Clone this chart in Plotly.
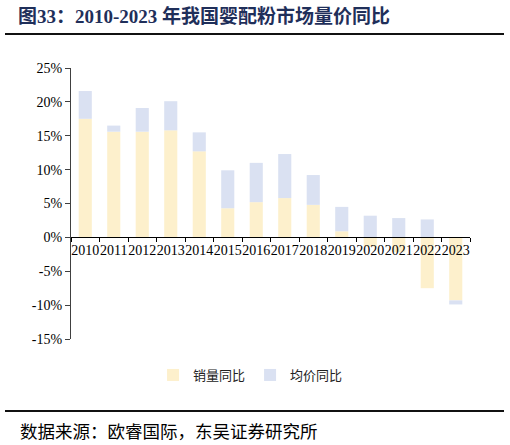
import plotly.graph_objects as go

years = ["2010", "2011", "2012", "2013", "2014", "2015", "2016",
         "2017", "2018", "2019", "2020", "2021", "2022", "2023"]
volume_yoy = [17.5, 15.6, 15.6, 15.8, 12.7, 4.3, 5.2, 5.8, 4.8, 0.9, -1.4, -2.2, -7.5, -9.3]
price_yoy = [4.1, 0.9, 3.5, 4.3, 2.8, 5.6, 5.8, 6.5, 4.4, 3.6, 3.2, 2.85, 2.65, -0.6]

y_tickvals = [-15, -10, -5, 0, 5, 10, 15, 20, 25]
y_ticktext = ["-15%", "-10%", "-5%", "0%", "5%", "10%", "15%", "20%", "25%"]

title_text = "图33：2010-2023 年我国婴配粉市场量价同比"
source_text = "数据来源：欧睿国际，东吴证券研究所"

serif = "Liberation Serif, 'Times New Roman', 'Noto Sans CJK SC', serif"
cjk = "'Noto Sans CJK SC', sans-serif"

fig = go.Figure()
fig.add_trace(go.Bar(x=years, y=volume_yoy, name="销量同比",
                     marker=dict(color="#FDF0CC", line=dict(width=0)), width=0.46))
fig.add_trace(go.Bar(x=years, y=price_yoy, name="均价同比",
                     marker=dict(color="#DAE1F2", line=dict(width=0)), width=0.46))

W, H = 510, 445
ml, mr, mt, mb = 71, 40, 68, 106
pw, ph = W - ml - mr, H - mt - mb


def px(xp):
    return (xp - ml) / pw


def py(yp):
    return (H - mb - yp) / ph


fig.update_layout(
    width=W, height=H,
    margin=dict(l=ml, r=mr, t=mt, b=mb, pad=0),
    paper_bgcolor="white", plot_bgcolor="white",
    barmode="relative",
    showlegend=True,
    legend=dict(orientation="h", x=0.45, xanchor="center", y=py(375), yanchor="middle",
                font=dict(family=cjk, size=13, color="#222222"),
                itemwidth=30, traceorder="normal", bgcolor="rgba(0,0,0,0)"),
    xaxis=dict(type="category", anchor="free", position=15 / 40,
               showline=True, linecolor="#000000", linewidth=1.2,
               ticks="outside", ticklen=4, tickcolor="#000000", tickwidth=1,
               tickson="boundaries", tickangle=0,
               tickfont=dict(family=serif, size=14, color="#000000"),
               showgrid=False, zeroline=False, range=[-0.5, 13.5]),
    yaxis=dict(range=[-15, 25], tickvals=y_tickvals, ticktext=y_ticktext,
               showline=True, linecolor="#404040", linewidth=1.3,
               ticks="outside", ticklen=5, tickcolor="#404040",
               tickfont=dict(family=serif, size=14, color="#000000"),
               showgrid=False, zeroline=False),
)

fig.add_annotation(text="<b>" + title_text + "</b>", xref="paper", yref="paper",
                   x=px(16), y=py(16), xanchor="left", yanchor="middle", showarrow=False,
                   font=dict(family=serif, size=19, color="#1F2F5A"))
fig.add_annotation(text=source_text, xref="paper", yref="paper",
                   x=px(18), y=py(430), xanchor="left", yanchor="middle", showarrow=False,
                   font=dict(family=cjk, size=17.5, color="#000000"))

fig.add_shape(type="line", xref="paper", yref="paper",
              x0=px(5), x1=px(504), y0=py(34), y1=py(34),
              line=dict(color="#111111", width=2.2))
fig.add_shape(type="line", xref="paper", yref="paper",
              x0=px(5), x1=px(504), y0=py(411), y1=py(411),
              line=dict(color="#111111", width=2.2))

fig.write_html("out.html", config={"displayModeBar": False},
               post_script="document.body.style.margin='0';document.body.style.overflow='hidden';")
